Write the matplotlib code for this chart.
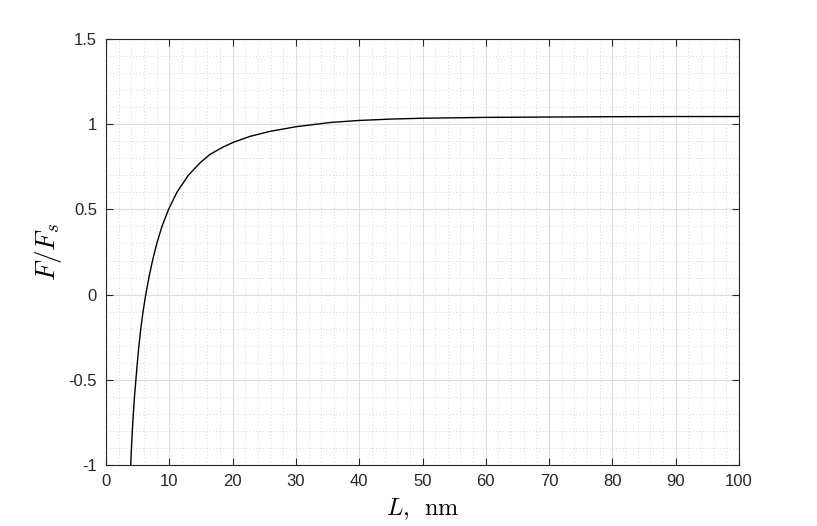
import matplotlib.pyplot as plt
from matplotlib.ticker import MultipleLocator

# values (L in nm, F/Fs)
L_nm = [3.9, 4.02, 4.16, 4.32, 4.5, 4.72, 4.95, 5.2, 5.5, 5.85, 6.28, 6.78,
        7.35, 8.02, 8.84, 9.88, 11.2, 13.0, 14.85, 16.4, 18.5, 20.0, 22.7,
        25.9, 30.0, 35.4, 40.0, 45.0, 50.0, 60.0, 70.0, 80.0, 90.0, 100.0]
F_ratio = [-1.0, -0.9, -0.8, -0.7, -0.6, -0.5, -0.4, -0.3, -0.2, -0.1, 0.0, 0.1,
           0.2, 0.3, 0.4, 0.5, 0.6, 0.7, 0.773, 0.822, 0.866, 0.892, 0.928,
           0.958, 0.985, 1.010, 1.022, 1.030, 1.035, 1.040, 1.042, 1.044, 1.045, 1.045]

x_ticks = [0, 10, 20, 30, 40, 50, 60, 70, 80, 90, 100]
y_ticks = [-1, -0.5, 0, 0.5, 1, 1.5]
y_labels = ["-1", "-0.5", "0", "0.5", "1", "1.5"]

plt.rcParams['mathtext.fontset'] = 'cm'
plt.rcParams['font.family'] = ['Liberation Sans', 'DejaVu Sans']

fig = plt.figure(figsize=(8.17, 5.26), dpi=100)
ax = fig.add_axes([106 / 817, 61 / 526, 633 / 817, 426 / 526])

ax.plot(L_nm, F_ratio, color="black", linewidth=1.0, zorder=3)

ax.set_xlim(0, 100)
ax.set_ylim(-1, 1.5)
ax.set_xticks(x_ticks)
ax.set_yticks(y_ticks)
ax.set_yticklabels(y_labels)
ax.xaxis.set_minor_locator(MultipleLocator(2))
ax.yaxis.set_minor_locator(MultipleLocator(0.1))

dark = "#262626"
ax.grid(which="major", color="#dedede", linewidth=0.8, linestyle="-", zorder=0)
ax.grid(which="minor", color="#c8c8c8", linewidth=0.6, linestyle=(0, (1, 3)), zorder=0)
ax.set_axisbelow(True)

ax.tick_params(which="major", direction="in", length=4.8, width=0.8,
               top=True, right=True, colors=dark, labelsize=12, pad=6.5)
ax.tick_params(which="minor", length=0)
for s in ax.spines.values():
    s.set_color(dark)
    s.set_linewidth(0.8)

ax.set_xlabel(r"$L,\ \,\mathrm{nm}$", fontsize=17.5, labelpad=5)
ax.set_ylabel(r"$F/F_s$", fontsize=19.5, labelpad=3)

plt.savefig("out.png", dpi=100)
